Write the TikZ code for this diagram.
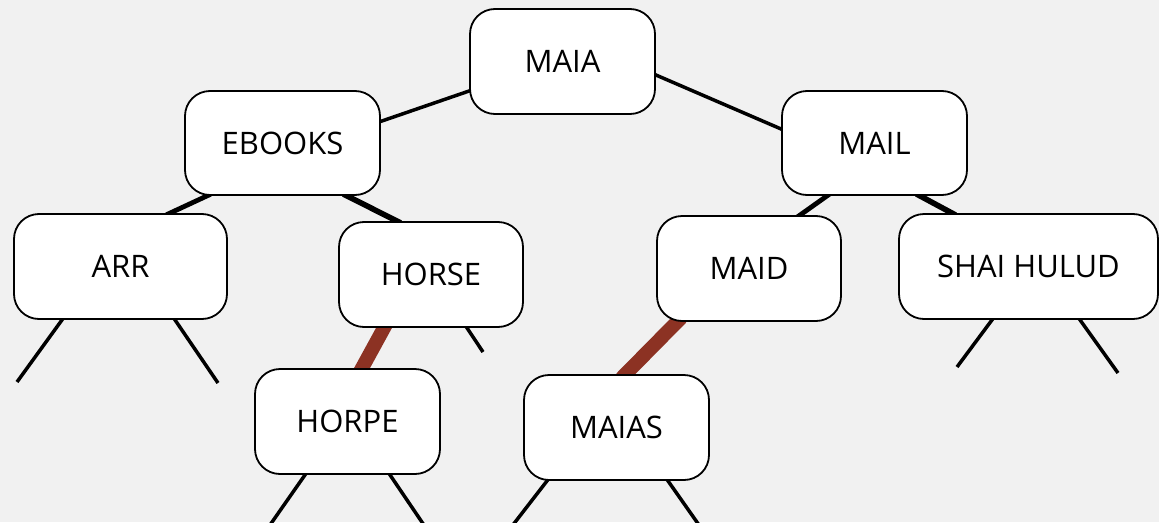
\documentclass[tikz,border=0pt]{standalone}
\usepackage{fontspec}
\setmainfont{Open Sans}
\usetikzlibrary{calc}
\pgfdeclarelayer{paper}
\pgfdeclarelayer{edges}
\pgfsetlayers{paper,edges,main}
\definecolor{paperbg}{RGB}{241,241,241}
\definecolor{pathred}{RGB}{140,50,35}
\tikzset{
  keybox/.style={draw=black, line width=1.8pt, fill=white, rounded corners=25pt,
    inner sep=0pt, minimum height=105pt, font=\fontsize{31}{36}\selectfont},
  link/.style={draw=black, line width=3.5pt, shorten <=-4pt, shorten >=-4pt},
  thicklink/.style={link, line width=4.8pt},
  heavylink/.style={link, line width=5.6pt},
  hotlink/.style={draw=pathred, line width=14pt, shorten <=-6pt, shorten >=-6pt},
  stub/.style={draw=black, line width=3.5pt, shorten <=-4pt},
}
\begin{document}
\begin{tikzpicture}[x=1pt, y=-1pt]
  \begin{pgfonlayer}{paper}
    \fill[paperbg] (0,0) rectangle (1159,522);
  \end{pgfonlayer}
  \useasboundingbox (0,0) rectangle (1159,522);
  \clip (0,0) rectangle (1159,522);

  % keys of the tree
  \node[keybox, minimum width=185pt] (maia)   at (562.5,61.5)  {MAIA};
  \node[keybox, minimum width=195pt, minimum height=104pt] (ebooks) at (282.5,143) {EBOOKS};
  \node[keybox, minimum width=185pt, minimum height=104pt] (mail)   at (874.5,143) {MAIL};
  \node[keybox, minimum width=213pt] (arr)    at (120.5,266.5) {ARR};
  \node[keybox, minimum width=184pt] (horse)  at (431,274.5)   {HORSE};
  \node[keybox, minimum width=184pt] (maid)   at (749,268.5)   {MAID};
  \node[keybox, minimum width=259pt] (shai)   at (1028.5,266.5) {SHAI HULUD};
  \node[keybox, minimum width=185pt] (horpe)  at (347.5,421.5) {HORPE};
  \node[keybox, minimum width=185pt] (maias)  at (616.5,427.5) {MAIAS};

  % open ends of empty subtrees
  \coordinate (arrL)   at (17,382);
  \coordinate (arrR)   at (218,383);
  \coordinate (horseR) at (483,352);
  \coordinate (shaiL)  at (957,367);
  \coordinate (shaiR)  at (1118,373);
  \coordinate (horpeL) at (266.5,530);
  \coordinate (horpeR) at (427.3,530);
  \coordinate (maiasL) at (509,530);
  \coordinate (maiasR) at (702.5,530);

  \begin{pgfonlayer}{edges}
    \draw[link] ($(maia.west)+(0,29.5)$) -- ($(ebooks.east)+(1,-22)$);
    \draw[link] ($(maia.east)+(0,13.5)$) -- ($(mail.west)+(0,-14)$);
    \draw[thicklink] ($(ebooks.south)+(-75.5,0)$) -- ($(arr.north)+(49.5,0)$);
    \draw[heavylink] ($(ebooks.south)+(64.5,0)$) -- ($(horse.north)+(-34,0)$);
    \draw[thicklink] ($(mail.south)+(-47.5,0)$) -- ($(maid.north)+(51,0)$);
    \draw[heavylink] ($(mail.south)+(45.5,0)$) -- ($(shai.north)+(-76.5,0)$);
    % search path
    \draw[hotlink] ($(horse.south)+(-47,0)$) -- ($(horpe.north)+(14.5,0)$);
    \draw[hotlink] ($(maid.south)+(-72,0)$) -- ($(maias.north)+(9,0)$);
    % stubs
    \draw[stub] ($(arr.south)+(-58.5,0)$) -- (arrL);
    \draw[stub] ($(arr.south)+(54.5,0)$) -- (arrR);
    \draw[stub] ($(horse.south)+(36,0)$) -- (horseR);
    \draw[stub] ($(shai.south)+(-36.5,0)$) -- (shaiL);
    \draw[stub] ($(shai.south)+(51.5,0)$) -- (shaiR);
    \draw[stub] ($(horpe.south)+(-42.5,0)$) -- (horpeL);
    \draw[stub] ($(horpe.south)+(42.5,0)$) -- (horpeR);
    \draw[stub] ($(maias.south)+(-69.5,0)$) -- (maiasL);
    \draw[stub] ($(maias.south)+(51.5,0)$) -- (maiasR);
  \end{pgfonlayer}
\end{tikzpicture}
\end{document}
